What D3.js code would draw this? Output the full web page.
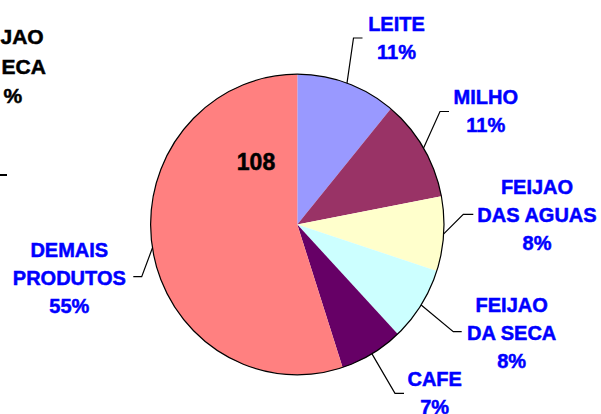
<!DOCTYPE html>
<html>
<head>
<meta charset="utf-8">
<script src="https://cdn.jsdelivr.net/npm/d3@7/dist/d3.min.js"></script>
<style>
  html, body { margin: 0; padding: 0; background: #fff; }
  svg { display: block; font-family: "Liberation Sans", Arial, sans-serif; font-weight: bold; }
</style>
</head>
<body>
<svg id="chart" width="601" height="414"></svg>
<script>
// Shares of production value by product (percent)
const categories = ["LEITE", "MILHO", "FEIJAO DAS AGUAS", "FEIJAO DA SECA", "CAFE", "DEMAIS PRODUTOS"];
const labelLines = [["LEITE"], ["MILHO"], ["FEIJAO", "DAS AGUAS"], ["FEIJAO", "DA SECA"], ["CAFE"], ["DEMAIS", "PRODUTOS"]];
const shares = [11, 11, 8, 8, 7, 55];
const colors = ["#9999FF", "#993366", "#FFFFCC", "#CCFFFF", "#660066", "#FF8080"];
const totalLabel = "108";

// Visible tail of the neighbouring chart's label
const sideLines = ["JAO", "ECA", "%"];

// Leader elbows / label anchors (layout only)
const labelLayout = [
  { elbow: [353.5, 38],    end: [362.5, 38],    tx: 396.5, ty: 31 },
  { elbow: [440, 111.5],   end: [449, 111.5],   tx: 485.8, ty: 104 },
  { elbow: [463.3, 214.3], end: [473.3, 214.3], tx: 537,   ty: 194 },
  { elbow: [453.3, 331.7], end: [461.7, 331.7], tx: 511.7, ty: 311.7 },
  { elbow: [395, 393.3],   end: [404, 393.3],   tx: 434.7, ty: 385.7 },
  { elbow: [141.7, 276.7], end: [133.3, 276.7], tx: 69.3,  ty: 256.7 }
];

const svg = d3.select("#chart");
const cx = 297.3, cy = 224.5, r = 150.3, sx = 146.7 / 150.3;
const lineH = 28;

const pie = d3.pie().value(d => d).sort(null);
const arcs = pie(shares);
const arc = d3.arc().innerRadius(0).outerRadius(r);

const g = svg.append("g").attr("transform", `translate(${cx},${cy}) scale(${sx},1)`);
g.selectAll("path.slice")
  .data(arcs)
  .join("path")
  .attr("class", "slice")
  .attr("d", arc)
  .attr("fill", (d, i) => colors[i])
  .attr("stroke", "none");

// Outline of the pie
g.append("circle")
  .attr("r", r)
  .attr("fill", "none")
  .attr("stroke", "#000")
  .attr("stroke-width", 1.2)
  .attr("vector-effect", "non-scaling-stroke");

// Leader lines from slice edge to label
const edgePoint = d => {
  const a = (d.startAngle + d.endAngle) / 2;
  return [cx + Math.sin(a) * r * sx, cy - Math.cos(a) * r];
};
svg.selectAll("path.leader")
  .data(arcs)
  .join("path")
  .attr("class", "leader")
  .attr("d", (d, i) => d3.line()([edgePoint(d), labelLayout[i].elbow, labelLayout[i].end]))
  .attr("fill", "none")
  .attr("stroke", "#000")
  .attr("stroke-width", 1.2);

// Category labels with percent
const fmt = d3.format(".0f");
const labels = svg.selectAll("text.label")
  .data(arcs)
  .join("text")
  .attr("class", "label")
  .attr("text-anchor", "middle")
  .attr("font-size", 20)
  .attr("fill", "#0000FF")
  .attr("stroke", "#0000FF")
  .attr("stroke-width", 0.5);
labels.each(function (d, i) {
  const t = d3.select(this);
  const lines = labelLines[i].concat([fmt(d.data) + "%"]);
  lines.forEach((s, k) => {
    t.append("tspan")
      .attr("x", labelLayout[i].tx)
      .attr("y", labelLayout[i].ty + k * lineH)
      .text(s);
  });
});

// Total inside the pie
svg.append("text")
  .attr("x", 256)
  .attr("y", 170)
  .attr("text-anchor", "middle")
  .attr("font-size", 23)
  .attr("fill", "#000")
  .attr("stroke", "#000")
  .attr("stroke-width", 0.5)
  .text(totalLabel);

// Neighbouring chart fragments at the left edge
const sideStarts = [0.5, 1.5, 3.5];
const side = svg.append("text")
  .attr("font-size", 21)
  .attr("fill", "#000")
  .attr("stroke", "#000")
  .attr("stroke-width", 0.5);
[43.5, 73.5, 103].forEach((y, k) => {
  side.append("tspan").attr("x", sideStarts[k]).attr("y", y).text(sideLines[k]);
});
svg.append("line")
  .attr("x1", 0).attr("x2", 7)
  .attr("y1", 175).attr("y2", 175)
  .attr("stroke", "#000")
  .attr("stroke-width", 2);
</script>
</body>
</html>
